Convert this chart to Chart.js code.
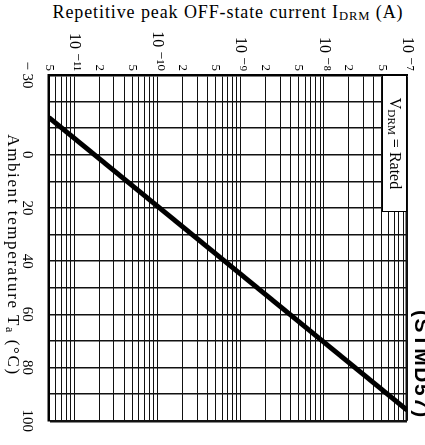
<!DOCTYPE html>
<html>
<head>
<meta charset="utf-8">
<script src="https://cdn.jsdelivr.net/npm/chart.js@4.4.1/dist/chart.umd.min.js"></script>
<style>
  html, body { margin: 0; padding: 0; background: #fff; }
  body { width: 425px; height: 445px; position: relative; overflow: hidden; font-family: 'Liberation Serif', 'DejaVu Serif', serif; color: #000; }
  /* the whole graph is drawn upright and turned a quarter turn clockwise */
  #sheet { position: absolute; left: 0; top: 0; width: 445px; height: 425px; transform-origin: 0 0; transform: translate(425px, 0) rotate(90deg); }
  #sheet canvas { position: absolute; left: 0; top: 0; }
  #ytitle { position: absolute; left: 30px; width: 396px; top: 2px; text-align: center; font-size: 18px; letter-spacing: 0.9px; white-space: nowrap; }
  #xtitle { position: absolute; left: 75px; width: 360px; top: 402px; text-align: center; font-size: 17px; letter-spacing: 1.6px; white-space: nowrap; }
  #note { position: absolute; left: 75px; top: 18px; width: 137px; height: 25px; box-sizing: border-box; background: #fff; border: 1.5px solid #000; font-size: 16px; line-height: 22px; text-align: center; white-space: nowrap; }
  #part { position: absolute; left: 310px; top: -9px; font-family: 'Liberation Sans', Arial, sans-serif; font-weight: bold; font-size: 21px; letter-spacing: 1.5px; white-space: nowrap; }
  sub { font-size: 70%; vertical-align: -2px; line-height: 0; }
</style>
</head>
<body>
<div id="ytitle">Repetitive peak OFF-state current I<sub>DRM</sub> (A)</div>
<div id="sheet">
  <canvas id="idrmChart" width="445" height="425"></canvas>
  <div id="xtitle">Ambient temperature T<sub>a</sub> (°C)</div>
  <div id="note">V<sub>DRM</sub> = Rated</div>
  <div id="part">(STMD57)</div>
</div>
<script>
"use strict";

/* IDRM vs ambient temperature, straight line on log paper */
const tempC = [-14, 96];
const idrm = [5e-12, 1e-7];

/* temperature axis */
const tempMin = -30;
const tempMax = 100;
const tempLabels = [-30, 0, 20, 40, 60, 80, 100];

/* current axis: decades and mantissas for the log paper */
const currentMin = 5e-12;
const currentMax = 1e-7;
const decades = [-12, -11, -10, -9, -8, -7];
const gridMantissas = [1, 2, 3, 4, 5, 6, 7, 8, 9];
const labelMantissas = [1, 2, 5];

const serif = "'Liberation Serif', 'DejaVu Serif', serif";
const supDigits = { '-': '\u207B', '0': '\u2070', '1': '\u00B9', '2': '\u00B2', '3': '\u00B3', '4': '\u2074', '5': '\u2075', '6': '\u2076', '7': '\u2077', '8': '\u2078', '9': '\u2079' };

function splitValue(v) {
    var e = Math.floor(Math.log10(v) + 1e-9);
    return { exp: e, mant: Math.round(v / Math.pow(10, e)) };
}

var gridValues = [];
decades.forEach(function (e) {
    gridMantissas.forEach(function (m) {
        var v = m * Math.pow(10, e);
        if (v >= currentMin * 0.999 && v <= currentMax * 1.001) gridValues.push(v);
    });
});

var points = tempC.map(function (t, i) { return { x: t, y: idrm[i] }; });

var ctx = document.getElementById('idrmChart').getContext('2d');
var chart = new Chart(ctx, {
    type: 'scatter',
    data: {
        datasets: [{
            data: points,
            showLine: true,
            borderColor: '#000',
            borderWidth: 5,
            pointRadius: 0,
            fill: false
        }]
    },
    options: {
        responsive: false,
        animation: false,
        layout: { padding: { top: 18, right: 13, left: 0, bottom: 0 } },
        plugins: {
            legend: { display: false },
            tooltip: { enabled: false }
        },
        scales: {
            x: {
                type: 'linear',
                min: tempMin,
                max: tempMax,
                afterFit: function (scale) { scale.height = 49; },
                border: { color: '#000', width: 2.5 },
                grid: {
                    color: '#111',
                    drawTicks: false,
                    lineWidth: function (c) { return c.index === 13 ? 2.5 : 1.5; }
                },
                ticks: {
                    stepSize: 10,
                    padding: 13,
                    maxRotation: 0,
                    autoSkip: false,
                    color: '#000',
                    font: { family: serif, size: 15 },
                    callback: function (v) {
                        if (tempLabels.indexOf(v) < 0) return '';
                        return v < 0 ? '\u2212 ' + Math.abs(v) : String(v);
                    }
                }
            },
            y: {
                type: 'logarithmic',
                min: currentMin,
                max: currentMax,
                afterFit: function (scale) { scale.width = 75; },
                afterBuildTicks: function (scale) {
                    scale.ticks = gridValues.map(function (v) { return { value: v }; });
                },
                border: { color: '#000', width: 2.5 },
                grid: {
                    color: '#111',
                    drawTicks: false,
                    lineWidth: function (c) { return c.index === gridValues.length - 1 ? 2.5 : 1.1; }
                },
                ticks: {
                    padding: 4,
                    autoSkip: false,
                    color: '#000',
                    font: function (c) {
                        var isDecade = c.tick && splitValue(c.tick.value).mant === 1;
                        return { family: serif, size: isDecade ? 16 : 13 };
                    },
                    callback: function (v) {
                        var s = splitValue(v);
                        if (labelMantissas.indexOf(s.mant) < 0) return '';
                        if (s.mant !== 1) return String(s.mant);
                        return '10 ' + String(s.exp).split('').map(function (ch) { return supDigits[ch]; }).join('');
                    }
                }
            }
        }
    }
});
</script>
</body>
</html>
